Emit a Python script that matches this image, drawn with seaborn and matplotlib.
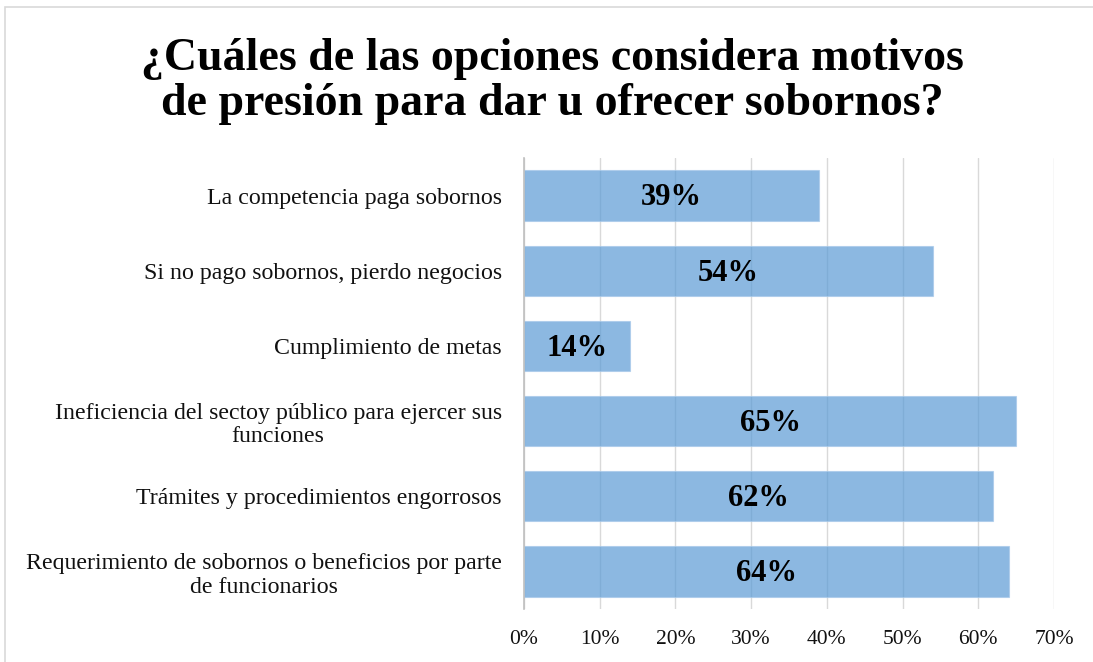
import matplotlib
matplotlib.use("Agg")
import matplotlib.pyplot as plt
import seaborn as sns
import pandas as pd
from matplotlib.patches import Rectangle

categories = [
    "La competencia paga sobornos",
    "Si no pago sobornos, pierdo negocios",
    "Cumplimiento de metas",
    "Ineficiencia del sectoy público para ejercer sus\nfunciones",
    "Trámites y procedimientos engorrosos",
    "Requerimiento de sobornos o beneficios por parte\nde funcionarios",
]
values = [39, 54, 14, 65, 62, 64]
xticks = [0, 10, 20, 30, 40, 50, 60, 70]
title = "¿Cuáles de las opciones considera motivos\nde presión para dar u ofrecer sobornos?"

sns.set_theme(style="white")
plt.rcParams["font.family"] = ["Liberation Serif", "DejaVu Serif"]

df = pd.DataFrame({"cat": categories, "val": values})

fig = plt.figure(figsize=(10.93, 6.62), dpi=100)
ax = fig.add_axes([0.4794, 0.080, 0.4849, 0.6813])

sns.barplot(data=df, x="val", y="cat", orient="h", color="#5B9BD5", alpha=0.7,
            saturation=1, width=0.67, edgecolor="#a6c8ea", linewidth=0.8,
            ax=ax, zorder=2)

ax.set_xlim(0, 70)
ax.set_ylim(len(categories) - 0.5, -0.5)
ax.set_xticks(xticks)
ax.set_xticklabels([f"{t}%" for t in xticks], fontsize=15.5, color="#111111")
ax.tick_params(axis="x", length=0, pad=15)
ax.tick_params(axis="y", length=0, pad=16)
for lbl in ax.get_yticklabels():
    lbl.set_fontsize(17.2)
    lbl.set_multialignment("center")
    lbl.set_color("#111111")
    lbl.set_linespacing(1.18)
ax.set_xlabel("")
ax.set_ylabel("")
ax.xaxis.grid(True, color="#d9d9d9", linewidth=1, zorder=0)
ax.set_axisbelow(True)
for s in ["top", "right", "bottom"]:
    ax.spines[s].set_visible(False)
ax.spines["left"].set_color("#bfbfbf")
ax.spines["left"].set_linewidth(1.2)

for i, v in enumerate(values):
    ax.text(v / 2, i + 0.03, f"{v}%", ha="center", va="center", fontsize=22,
            fontweight="bold", color="#000000", zorder=3)

fig.text(0.505, 0.877, title, ha="center", va="center", fontsize=33,
         fontweight="bold", linespacing=1.1, color="#000000")

fig.patches.append(Rectangle((0.005, -0.01), 1.2, 1.0, transform=fig.transFigure,
                             fill=False, edgecolor="#d9d9d9", linewidth=1.2))

fig.savefig("out.png", dpi=100)
